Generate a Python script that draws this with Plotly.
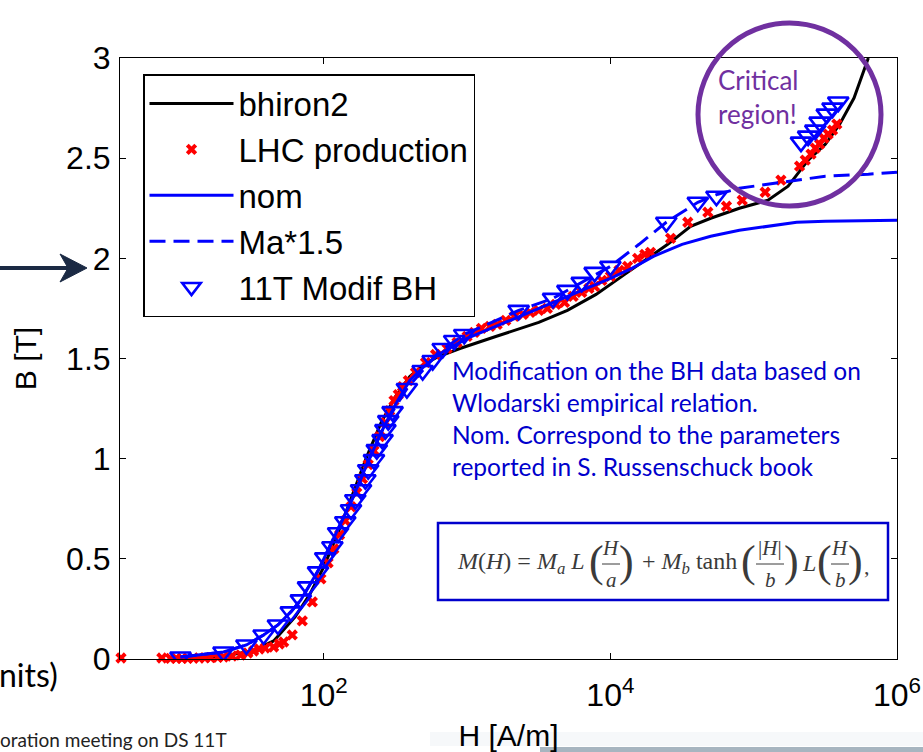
import plotly.graph_objects as go

# ---------------- data ----------------
# all H values are given as log10(H [A/m]); B in tesla
bhiron2_logH = [1.0, 1.3, 1.5, 1.65, 1.8, 1.9, 2.0, 2.1, 2.2, 2.3, 2.4, 2.5, 2.6, 2.7, 2.8,
                2.95, 3.2, 3.5, 3.7, 3.9, 4.1, 4.24, 4.4, 4.56, 4.7, 4.9, 5.1, 5.24, 5.38,
                5.5, 5.6, 5.7, 5.8]
bhiron2_B = [0.005, 0.015, 0.04, 0.09, 0.21, 0.32, 0.46, 0.63, 0.82, 1.01, 1.18, 1.31, 1.41,
             1.47, 1.51, 1.55, 1.61, 1.68, 1.74, 1.82, 1.92, 1.99, 2.07, 2.16, 2.2, 2.25,
             2.29, 2.36, 2.49, 2.57, 2.67, 2.8, 3.0]

nom_logH = [1.0, 1.3, 1.46, 1.58, 1.68, 1.77, 1.84, 1.9, 1.96, 2.0, 2.1, 2.2, 2.3, 2.4, 2.5,
            2.6, 2.7, 2.8, 3.0, 3.2, 3.4, 3.6, 3.8, 4.0, 4.15, 4.3, 4.5, 4.7, 4.9, 5.1,
            5.3, 5.5, 5.8, 6.0]
nom_B = [0.01, 0.035, 0.07, 0.12, 0.17, 0.235, 0.295, 0.37, 0.44, 0.5, 0.65, 0.8, 0.97,
         1.13, 1.27, 1.39, 1.46, 1.52, 1.6, 1.66, 1.72, 1.78, 1.84, 1.9, 1.95, 2.01, 2.07,
         2.11, 2.14, 2.16, 2.18, 2.185, 2.19, 2.19]

ma15_logH = [1.0, 1.3, 1.46, 1.58, 1.68, 1.77, 1.84, 1.9, 1.96, 2.0, 2.1, 2.2, 2.3, 2.4,
             2.48, 2.58, 2.69, 2.8, 2.98, 3.36, 3.6, 3.8, 4.0, 4.2, 4.39, 4.61, 4.75,
             4.9, 5.1, 5.3, 5.5, 5.8, 6.0]
ma15_B = [0.01, 0.035, 0.07, 0.12, 0.17, 0.235, 0.295, 0.37, 0.44, 0.5, 0.65, 0.8, 0.97,
          1.13, 1.235, 1.35, 1.44, 1.53, 1.62, 1.74, 1.8, 1.88, 1.96, 2.07, 2.18, 2.28,
          2.32, 2.35, 2.37, 2.39, 2.41, 2.42, 2.43]

lhc_logH = [0.585, 0.87, 0.93, 0.97, 1.01, 1.05, 1.09, 1.13, 1.17, 1.21, 1.26, 1.30, 1.36,
            1.42, 1.47, 1.51, 1.55, 1.59, 1.65, 1.69, 1.72, 1.78, 1.85, 1.92, 1.98, 2.03,
            2.07, 2.11, 2.15, 2.19, 2.23, 2.27, 2.31, 2.35, 2.39, 2.43, 2.46, 2.49, 2.52,
            2.55, 2.59, 2.64, 2.71, 2.78, 2.86, 2.93, 3.0, 3.05, 3.1, 3.16, 3.21, 3.27,
            3.33, 3.39, 3.44, 3.5, 3.56, 3.62, 3.68, 3.74, 3.8, 3.85, 3.89, 3.94, 4.0,
            4.06, 4.12, 4.19, 4.24, 4.28, 4.42, 4.54, 4.68, 4.81, 4.92, 5.08, 5.19, 5.32,
            5.36, 5.4, 5.43, 5.46, 5.49, 5.52, 5.55, 5.58]
lhc_B = [0.005, 0.005, 0.003, 0.003, 0.003, 0.003, 0.004, 0.005, 0.006, 0.007, 0.008,
         0.01, 0.015, 0.02, 0.03, 0.04, 0.05, 0.055, 0.06, 0.075, 0.085, 0.12, 0.19,
         0.285, 0.4, 0.48, 0.55, 0.62, 0.69, 0.76, 0.83, 0.9, 0.97, 1.04, 1.11, 1.18,
         1.24, 1.29, 1.32, 1.36, 1.39, 1.43, 1.48, 1.52, 1.55, 1.58, 1.61, 1.63, 1.65,
         1.66, 1.67, 1.69, 1.71, 1.72, 1.73, 1.74, 1.75, 1.77, 1.78, 1.81, 1.83, 1.85,
         1.86, 1.89, 1.91, 1.94, 1.96, 2.0, 2.02, 2.03, 2.1, 2.18, 2.23, 2.26, 2.29,
         2.33, 2.39, 2.46, 2.49, 2.52, 2.55, 2.57, 2.6, 2.62, 2.64, 2.67]

t11_logH = [1.0, 1.30, 1.46, 1.58, 1.68, 1.77, 1.84, 1.89, 1.96, 2.01, 2.06, 2.10, 2.15,
            2.19, 2.22, 2.26, 2.29, 2.31, 2.35, 2.37, 2.41, 2.43, 2.45, 2.48, 2.58, 2.69,
            2.76, 2.83, 2.91, 2.98, 3.36, 3.60, 3.70, 3.80, 3.89, 4.0, 4.39, 4.61, 4.74,
            5.33, 5.38, 5.43, 5.46, 5.51, 5.55, 5.59]
t11_B = [0.01, 0.035, 0.07, 0.12, 0.17, 0.235, 0.295, 0.36, 0.435, 0.505, 0.56, 0.63,
         0.685, 0.745, 0.795, 0.845, 0.895, 0.945, 0.995, 1.045, 1.095, 1.145, 1.19,
         1.235, 1.35, 1.44, 1.49, 1.55, 1.59, 1.62, 1.74, 1.80, 1.84, 1.88, 1.93, 1.96,
         2.18, 2.28, 2.31, 2.58, 2.61, 2.64, 2.68, 2.72, 2.75, 2.78]

x_tickvals = [1e2, 1e4, 1e6]
x_ticktext = ["10<sup>2</sup>", "10<sup>4</sup>", "10<sup>6</sup>"]
y_tickvals = [0, 0.5, 1, 1.5, 2, 2.5, 3]
y_ticktext = ["0", "0.5", "1", "1.5", "2", "2.5", "3"]


def to_H(logs):
    return [10 ** v for v in logs]


# ---------------- layout geometry (pixels) ----------------
W, HGT = 923, 752
ML, MR, MT, MB = 120, 26, 58, 93
PW = W - ML - MR
PH = HGT - MT - MB


def px(x):
    return (x - ML) / PW


def py(y):
    return (HGT - MB - y) / PH


AX_FONT = "Liberation Sans, Arial, sans-serif"
SLIDE_FONT = "Lato, Open Sans, sans-serif"
SERIF = "Liberation Serif, Times New Roman, serif"

fig = go.Figure()

fig.add_trace(go.Scatter(x=to_H(bhiron2_logH), y=bhiron2_B, mode="lines", name="bhiron2",
                         line=dict(color="black", width=3), legendgroup="a"))
fig.add_trace(go.Scatter(x=to_H(lhc_logH), y=lhc_B, mode="markers", name="LHC production",
                         marker=dict(symbol="x", color="#FF0000", size=10, line=dict(width=0)),
                         legendgroup="b", cliponaxis=False))
fig.add_trace(go.Scatter(x=to_H(nom_logH), y=nom_B, mode="lines", name="nom",
                         line=dict(color="#0000FF", width=3), legendgroup="c"))
fig.add_trace(go.Scatter(x=to_H(ma15_logH), y=ma15_B, mode="lines", name="Ma*1.5",
                         line=dict(color="#0000FF", width=3, dash="16px,8px"), legendgroup="d"))
fig.add_trace(go.Scatter(x=to_H(t11_logH), y=t11_B, mode="markers", name="11T Modif BH",
                         marker=dict(symbol="triangle-down-open", color="#0000FF", size=18,
                                     line=dict(width=2.6, color="#0000FF")),
                         legendgroup="e"))

shapes = []
annotations = []

# slide background band at the bottom
shapes.append(dict(type="rect", xref="paper", yref="paper", x0=px(430), x1=px(923),
                   y0=py(746), y1=py(732), line=dict(width=0),
                   fillcolor="rgba(225,232,240,0.3)", layer="below"))
shapes.append(dict(type="rect", xref="paper", yref="paper", x0=px(540), x1=px(923),
                   y0=py(752), y1=py(747), line=dict(width=0),
                   fillcolor="rgba(95,120,140,0.55)", layer="below"))

# critical region circle
shapes.append(dict(type="circle", xref="paper", yref="paper",
                   x0=px(698), x1=px(881), y0=py(206), y1=py(23),
                   line=dict(color="#7030A0", width=5)))
annotations.append(dict(xref="paper", yref="paper", x=px(716), y=py(97),
                        xanchor="left", yanchor="middle", align="left", showarrow=False,
                        text="Critical<br>region!",
                        font=dict(family=SLIDE_FONT, size=26, color="#7030A0")))

# blue explanatory text
annotations.append(dict(xref="paper", yref="paper", x=px(450), y=py(418),
                        xanchor="left", yanchor="middle", align="left", showarrow=False,
                        text=("Modification on the BH data based on<br>"
                              "Wlodarski empirical relation.<br>"
                              "Nom. Correspond to the parameters<br>"
                              "reported in S. Russenschuck book"),
                        font=dict(family=SLIDE_FONT, size=24.5, color="#0000CC")))

# formula box
shapes.append(dict(type="rect", xref="paper", yref="paper",
                   x0=px(438), x1=px(888), y0=py(600), y1=py(523),
                   line=dict(color="#0000CC", width=2.5), fillcolor="white"))
FC = "#3a3a3a"


def ftxt(x, y, t, size=24):
    annotations.append(dict(xref="paper", yref="paper", x=px(x), y=py(y), xanchor="center",
                            yanchor="middle", showarrow=False, text=t,
                            font=dict(family=SERIF, size=size, color=FC)))


def frac(xc, half, num, den):
    ftxt(xc, 548, num, 21)
    ftxt(xc, 580, den, 21)
    shapes.append(dict(type="line", xref="paper", yref="paper", x0=px(xc - half),
                       x1=px(xc + half), y0=py(564), y1=py(564),
                       line=dict(color=FC, width=1)))


ftxt(521, 563, "<i>M</i>(<i>H</i>) = <i>M<sub>a</sub> L</i>", 24)
ftxt(596, 561, "(", 44)
frac(611, 9, "<i>H</i>", "<i>a</i>")
ftxt(626, 561, ")", 44)
ftxt(689, 563, "+ <i>M<sub>b</sub></i> tanh", 24)
ftxt(748, 561, "(", 44)
frac(770, 14, "|<i>H</i>|", "<i>b</i>")
ftxt(791, 561, ")", 44)
ftxt(809, 563, "<i>L</i>", 24)
ftxt(824, 561, "(", 44)
frac(840, 9, "<i>H</i>", "<i>b</i>")
ftxt(855, 561, ")", 44)
ftxt(867, 566, ",", 22)

# slide arrow pointing at B = 2
shapes.append(dict(type="line", xref="paper", yref="paper", x0=px(0), x1=px(72),
                   y0=py(268), y1=py(268), line=dict(color="#1B2A44", width=4)))
shapes.append(dict(type="path", xref="paper", yref="paper",
                   path=(f"M {px(87)},{py(268)} L {px(60)},{py(254)} L {px(68)},{py(268)} "
                         f"L {px(60)},{py(282)} Z"),
                   fillcolor="#1B2A44", line=dict(color="#1B2A44", width=1)))

# slide fragments around the chart
annotations.append(dict(xref="paper", yref="paper", x=px(-3), y=py(674), xanchor="left",
                        yanchor="middle", showarrow=False, text="nits)",
                        font=dict(family=SLIDE_FONT, size=32, color="black")))
annotations.append(dict(xref="paper", yref="paper", x=px(-2), y=py(740), xanchor="left",
                        yanchor="middle", showarrow=False, text="oration meeting on DS 11T",
                        font=dict(family=SLIDE_FONT, size=19, color="#222222")))

axis_common = dict(showline=True, linecolor="black", linewidth=1, mirror="ticks",
                   ticks="inside", ticklen=6, tickcolor="black", showgrid=False,
                   zeroline=False, automargin=False,
                   tickfont=dict(family=AX_FONT, size=32, color="black"))

fig.update_layout(
    width=W, height=HGT,
    margin=dict(l=ML, r=MR, t=MT, b=MB),
    paper_bgcolor="white", plot_bgcolor="white",
    xaxis=dict(type="log", range=[0.578, 6.0], tickvals=x_tickvals, ticktext=x_ticktext,
               ticklabelstandoff=8,
               title=dict(text="H [A/m]", font=dict(family=AX_FONT, size=30, color="black"),
                          standoff=12),
               **axis_common),
    yaxis=dict(range=[0, 3], tickvals=y_tickvals, ticktext=y_ticktext,
               ticklabelstandoff=2,
               title=dict(text="B [T]", font=dict(family=AX_FONT, size=30, color="black"),
                          standoff=20),
               **axis_common),
    legend=dict(x=px(143), y=py(74), xanchor="left", yanchor="top",
                bgcolor="white", bordercolor="black", borderwidth=1.5,
                font=dict(family=AX_FONT, size=33, color="black"),
                itemwidth=84, tracegroupgap=0, traceorder="normal"),
    shapes=shapes,
    annotations=annotations,
    showlegend=True,
)

fig.write_html("out.html")
